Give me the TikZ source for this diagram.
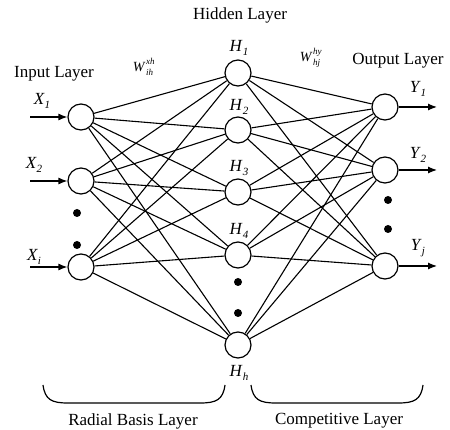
\documentclass[tikz,border=0pt]{standalone}
\usepackage{fontspec}
\setmainfont{Liberation Serif}
\usetikzlibrary{arrows.meta}
\newcommand{\lbl}[2]{\textit{#1}\raisebox{-0.45ex}{\fontsize{11}{11}\selectfont\textit{#2}}}
\newcommand{\wgt}[3]{\textit{#1}\kern0.5pt\rlap{\raisebox{1.1ex}{\fontsize{9}{9}\selectfont\textit{#2}}}\raisebox{-0.7ex}{\fontsize{9}{9}\selectfont\textit{#3}}}
\tikzset{
  x=1pt, y=-1pt,
  neuron/.style={circle, draw, line width=1.2pt, minimum size=26pt, inner sep=0pt, fill=white},
  link/.style={line width=1.1pt},
  sig/.style={line width=1.2pt, -{Latex[length=9pt,width=7pt]}},
  dot/.style={circle, fill=black, minimum size=8pt, inner sep=0pt},
  txt/.style={font=\fontsize{17}{20}\selectfont, inner sep=0pt},
  wtxt/.style={font=\fontsize{14}{16}\selectfont, inner sep=0pt},
  brace/.style={line width=1.2pt}
}
\begin{document}
\begin{tikzpicture}
\useasboundingbox (0,0) rectangle (450,430);

% hidden layer
\node[neuron] (h1) at (238,73) {};
\node[neuron] (h2) at (238,130) {};
\node[neuron] (h3) at (238,192) {};
\node[neuron] (h4) at (238,255) {};
\node[neuron] (hh) at (238,345) {};
\node[dot] (hd1) at (238,282) {};
\node[dot] (hd2) at (238,313) {};

% input layer
\node[neuron] (x1) at (81,117) {};
\node[neuron] (x2) at (81,181) {};
\node[neuron] (xi) at (81,267) {};
\node[dot] (xd1) at (77,213) {};
\node[dot] (xd2) at (77,245) {};

% output layer
\node[neuron] (y1) at (385,107) {};
\node[neuron] (y2) at (385,170) {};
\node[neuron] (yj) at (385,266) {};
\node[dot] (yd1) at (388,200) {};
\node[dot] (yd2) at (388,229) {};

% full connections
\foreach \a in {x1,x2,xi}
  \foreach \b in {h1,h2,h3,h4,hh}
    \draw[link] (\a) -- (\b);
\foreach \a in {h1,h2,h3,h4,hh}
  \foreach \b in {y1,y2,yj}
    \draw[link] (\a) -- (\b);

% input and output signals
\coordinate (ix1) at (30,117);
\coordinate (ix2) at (30,181);
\coordinate (ixi) at (30,267);
\draw[sig] (ix1) -- (x1);
\draw[sig] (ix2) -- (x2);
\draw[sig] (ixi) -- (xi);
\coordinate (oy1) at (437,107);
\coordinate (oy2) at (437,170);
\coordinate (oyj) at (437,266);
\draw[sig] (y1) -- (oy1);
\draw[sig] (y2) -- (oy2);
\draw[sig] (yj) -- (oyj);

% node labels
\node[txt] (lx1) at (42,101) {\lbl{X}{1}};
\node[txt] (lx2) at (34,165) {\lbl{X}{2}};
\node[txt] (lxi) at (34,257) {\lbl{X}{i}};
\node[txt] (lh1) at (239,48) {\lbl{H}{1}};
\node[txt] (lh2) at (239,107) {\lbl{H}{2}};
\node[txt] (lh3) at (239,168) {\lbl{H}{3}};
\node[txt] (lh4) at (239,231) {\lbl{H}{4}};
\node[txt] (lhh) at (239,373) {\lbl{H}{h}};
\node[txt] (ly1) at (418,89) {\lbl{Y}{1}};
\node[txt] (ly2) at (418,155) {\lbl{Y}{2}};
\node[txt] (lyj) at (418,248) {\lbl{Y}{j}};

% layer titles and weights
\node[txt] (thid) at (240,15) {Hidden Layer};
\node[txt] (tin) at (54,74) {Input Layer};
\node[txt] (tout) at (398,61) {Output Layer};
\node[wtxt] (wxh) at (143,67) {\wgt{W}{xh}{ih}};
\node[wtxt] (why) at (310,58) {\wgt{W}{hy}{hj}};

% braces
\draw[brace] (43,385) .. controls (45,400) and (52,403) .. (68,403) -- (200,403) .. controls (216,403) and (223,400) .. (225,385);
\draw[brace] (251,385) .. controls (253,400) and (260,403) .. (276,403) -- (398,403) .. controls (414,403) and (421,400) .. (423,385);
\node[txt] (trb) at (133,421) {Radial Basis Layer};
\node[txt] (tcl) at (339,421) {Competitive Layer};
\end{tikzpicture}
\end{document}
